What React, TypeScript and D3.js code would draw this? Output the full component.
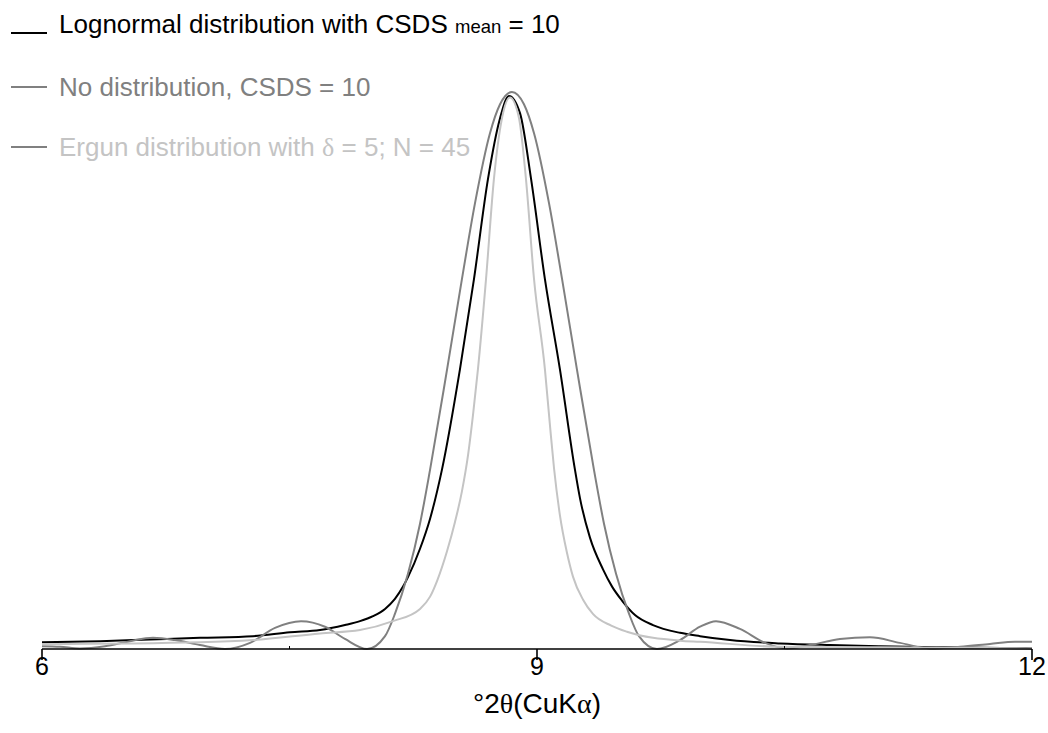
import React from 'react';
import * as d3 from 'd3';

// °2θ positions and intensities (peak of "no distribution" = 100)
const lognormalX = [6.0, 6.352, 6.655, 6.958, 7.279, 7.503, 7.685, 7.836, 7.927, 8.006, 8.079, 8.139, 8.188, 8.218, 8.291, 8.352, 8.424, 8.533, 8.618, 8.703, 8.776, 8.83, 8.897, 8.964, 9.048, 9.139, 9.23, 9.261, 9.321, 9.4, 9.455, 9.515, 9.594, 9.703, 9.867, 9.988, 10.17, 10.473, 10.776, 11.079, 11.503, 12.0];
const lognormalY = [1.2, 1.4, 1.7, 2.0, 2.3, 3.0, 3.4, 4.3, 5.0, 5.9, 7.2, 9.0, 11.2, 12.9, 18.0, 23.4, 32.2, 50.2, 66.4, 84.4, 95.3, 99.3, 96.2, 84.4, 66.4, 50.2, 32.2, 27.0, 20.0, 14.3, 11.2, 8.7, 6.1, 4.3, 2.9, 2.3, 1.6, 1.0, 0.7, 0.5, 0.3, 0.1];

const noDistX = [6.0, 6.109, 6.23, 6.382, 6.533, 6.673, 6.806, 6.958, 7.109, 7.261, 7.412, 7.57, 7.715, 7.836, 7.97, 8.079, 8.139, 8.218, 8.291, 8.352, 8.455, 8.545, 8.624, 8.715, 8.776, 8.848, 8.921, 8.982, 9.073, 9.152, 9.242, 9.345, 9.406, 9.479, 9.558, 9.618, 9.727, 9.867, 9.988, 10.085, 10.23, 10.382, 10.515, 10.655, 10.836, 11.018, 11.2, 11.382, 11.564, 11.745, 11.897, 12.0];
const noDistY = [0.5, 0.4, 0.1, 0.5, 1.4, 2.0, 1.6, 0.7, 0.0, 1.1, 3.8, 5.0, 4.0, 1.8, 0.0, 2.3, 6.3, 13.5, 22.5, 32.2, 50.2, 66.4, 80.0, 92.6, 97.8, 100, 97.8, 92.6, 80.0, 66.4, 50.2, 32.2, 22.5, 13.5, 6.3, 2.3, 0.0, 1.6, 4.0, 5.0, 3.6, 1.1, 0.1, 0.7, 1.8, 2.1, 1.1, 0.1, 0.4, 0.9, 1.3, 1.3];

const ergunX = [6.0, 6.958, 7.279, 7.685, 7.927, 8.127, 8.291, 8.352, 8.394, 8.455, 8.503, 8.545, 8.582, 8.612, 8.642, 8.691, 8.739, 8.788, 8.836, 8.891, 8.933, 8.982, 9.048, 9.079, 9.103, 9.139, 9.18, 9.218, 9.28, 9.339, 9.45, 9.545, 9.867, 9.988, 10.473, 11.079, 12.0];
const ergunY = [0.85, 1.2, 1.6, 2.8, 3.4, 5.0, 7.2, 9.4, 12.2, 17.6, 22.8, 28.3, 34.8, 42.0, 50.2, 66.4, 84.4, 95.3, 99.0, 95.3, 84.4, 66.4, 50.2, 40.0, 32.5, 24.0, 17.5, 13.0, 8.8, 6.3, 4.2, 3.1, 1.5, 1.3, 0.4, 0.3, 0.1];

const majorTicks = [6, 9, 12];
const minorTicks = [7.5, 10.5];
const xTitle = ['°2', 'θ', '(CuK', 'α', ')'];

const SANS = '"Liberation Sans", Arial, Helvetica, sans-serif';
const SERIF = '"Liberation Serif", "Times New Roman", serif';

export default function App() {
  const W = 1048, H = 733;
  const x = d3.scaleLinear().domain([6, 12]).range([42, 1032]);
  const y = d3.scaleLinear().domain([0, 100]).range([649, 92]);
  const line = d3.line<[number, number]>().x(d => x(d[0])).y(d => y(d[1])).curve(d3.curveMonotoneX);
  const mk = (xs: number[], ys: number[]) => xs.map((v, i) => [v, ys[i]] as [number, number]);

  const series = [
    { data: mk(lognormalX, lognormalY), color: '#000000' },
    { data: mk(noDistX, noDistY), color: '#808080' },
    { data: mk(ergunX, ergunY), color: '#c4c4c4' },
  ];

  const fs = 26;
  return (
    <svg width={W} height={H} style={{ position: 'absolute', left: 0, top: 0, background: '#fff' }} fontFamily={SANS}>
      <rect width={W} height={H} fill="#fff" />
      {series.map((s, i) => (
        <path key={i} d={line(s.data) || ''} fill="none" stroke={s.color} strokeWidth={2} />
      ))}
      {/* axis */}
      <line x1={x(6)} x2={x(12)} y1={649} y2={649} stroke="#000" strokeWidth={1.6} />
      {majorTicks.map(t => (
        <g key={t}>
          <line x1={x(t)} x2={x(t)} y1={649} y2={660} stroke="#000" strokeWidth={1.6} />
          <text x={x(t)} y={675} textAnchor="middle" fontSize={25} fill="#000">{t}</text>
        </g>
      ))}
      {minorTicks.map(t => (
        <line key={t} x1={x(t)} x2={x(t)} y1={649} y2={646} stroke="#000" strokeWidth={1} />
      ))}
      <text x={x(9)} y={713} textAnchor="middle" fontSize={28} fill="#000">
        {xTitle[0]}<tspan fontFamily={SERIF}>{xTitle[1]}</tspan>{xTitle[2]}<tspan fontFamily={SERIF}>{xTitle[3]}</tspan>{xTitle[4]}
      </text>
      {/* legend */}
      <line x1={11} x2={47} y1={33} y2={33} stroke="#000" strokeWidth={2} />
      <text x={59} y={33} fontSize={fs} fill="#000">
        {'Lognormal distribution with CSDS '}<tspan fontSize={18.5}>mean</tspan>{' = 10'}
      </text>
      <line x1={11} x2={47} y1={87} y2={87} stroke="#808080" strokeWidth={2} />
      <text x={59} y={96} fontSize={fs} fill="#808080">No distribution, CSDS = 10</text>
      <line x1={11} x2={47} y1={147} y2={147} stroke="#808080" strokeWidth={2} />
      <text x={59} y={156} fontSize={fs} fill="#c4c4c4">
        {'Ergun distribution with '}<tspan fontFamily={SERIF}>δ</tspan>{' = 5; N = 45'}
      </text>
    </svg>
  );
}
